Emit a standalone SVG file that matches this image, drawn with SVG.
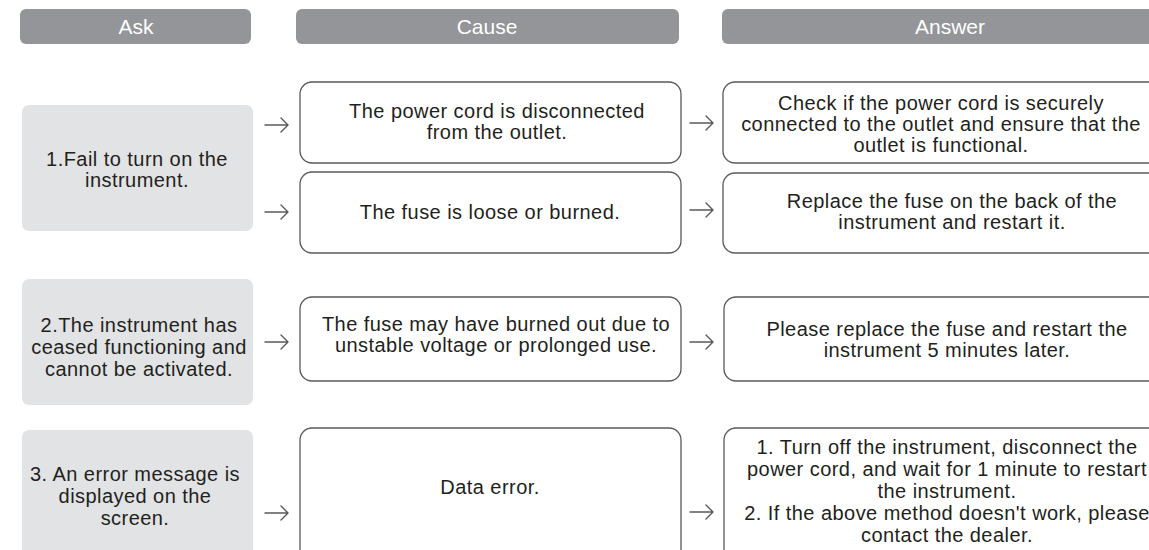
<svg xmlns="http://www.w3.org/2000/svg" width="1149" height="550" viewBox="0 0 1149 550">
<style>
.hdr{fill:#939598}
.hdrt{fill:#ffffff;font-family:"Liberation Sans",Arial,sans-serif;font-size:21px;text-anchor:middle}
.ask{fill:#e2e3e4}
.box{fill:#ffffff;stroke:#58595b;stroke-width:1.3}
.t{fill:#231f20;font-family:"Liberation Sans",Arial,sans-serif;font-size:20px;letter-spacing:0.45px;text-anchor:middle}
.arr{fill:none;stroke:#58595b;stroke-width:1.4;stroke-linecap:round;stroke-linejoin:round}
</style>
<rect width="1149" height="550" fill="#ffffff"/>
<g id="headers">
<rect class="hdr" x="20" y="9" width="231" height="35" rx="6"/>
<text class="hdrt" x="136" y="34">Ask</text>
<rect class="hdr" x="296" y="9" width="383" height="35" rx="6"/>
<text class="hdrt" x="487" y="34">Cause</text>
<rect class="hdr" x="722" y="9" width="450" height="35" rx="6"/>
<text class="hdrt" x="950" y="34">Answer</text>
</g>
<g id="ask1">
<rect class="ask" x="22" y="105" width="231" height="126" rx="7"/>
<text class="t" x="137" y="166">1.Fail to turn on the</text>
<text class="t" x="137" y="187">instrument.</text>
</g>
<g id="cause1a">
<rect class="box" x="300" y="82" width="381" height="81" rx="12"/>
<text class="t" x="497" y="118">The power cord is disconnected</text>
<text class="t" x="497" y="139">from the outlet.</text>
</g>
<g id="cause1b">
<rect class="box" x="300" y="172" width="381" height="81" rx="12"/>
<text class="t" x="490" y="219">The fuse is loose or burned.</text>
</g>
<g id="answer1a">
<rect class="box" x="723" y="82" width="450" height="81" rx="12"/>
<text class="t" x="941" y="110">Check if the power cord is securely</text>
<text class="t" x="941" y="131">connected to the outlet and ensure that the</text>
<text class="t" x="941" y="152">outlet is functional.</text>
</g>
<g id="answer1b">
<rect class="box" x="723" y="173" width="450" height="80" rx="12"/>
<text class="t" x="952" y="208">Replace the fuse on the back of the</text>
<text class="t" x="952" y="229">instrument and restart it.</text>
</g>
<g id="ask2">
<rect class="ask" x="22" y="279" width="231" height="126" rx="7"/>
<text class="t" x="139" y="332">2.The instrument has</text>
<text class="t" x="139" y="354">ceased functioning and</text>
<text class="t" x="139" y="376">cannot be activated.</text>
</g>
<g id="cause2">
<rect class="box" x="300" y="297" width="381" height="84" rx="12"/>
<text class="t" x="496" y="331">The fuse may have burned out due to</text>
<text class="t" x="496" y="352">unstable voltage or prolonged use.</text>
</g>
<g id="answer2">
<rect class="box" x="724" y="297" width="450" height="84" rx="12"/>
<text class="t" x="947" y="336">Please replace the fuse and restart the</text>
<text class="t" x="947" y="357">instrument 5 minutes later.</text>
</g>
<g id="ask3">
<rect class="ask" x="22" y="430" width="231" height="140" rx="7"/>
<text class="t" x="135" y="481">3. An error message is</text>
<text class="t" x="135" y="503">displayed on the</text>
<text class="t" x="135" y="525">screen.</text>
</g>
<g id="cause3">
<rect class="box" x="300" y="428" width="381" height="140" rx="12"/>
<text class="t" x="490" y="494">Data error.</text>
</g>
<g id="answer3">
<rect class="box" x="724" y="428" width="450" height="140" rx="12"/>
<text class="t" x="947" y="454">1. Turn off the instrument, disconnect the</text>
<text class="t" x="947" y="476">power cord, and wait for 1 minute to restart</text>
<text class="t" x="947" y="498">the instrument.</text>
<text class="t" x="947" y="520">2. If the above method doesn't work, please</text>
<text class="t" x="947" y="542">contact the dealer.</text>
</g>
<g id="connectors">
<path class="arr" d="M265 125H288M281 118L288 125L281 132"/>
<path class="arr" d="M265 212H288M281 205L288 212L281 219"/>
<path class="arr" d="M690 123H713M706 116L713 123L706 130"/>
<path class="arr" d="M690 210H713M706 203L713 210L706 217"/>
<path class="arr" d="M265 342H288M281 335L288 342L281 349"/>
<path class="arr" d="M690 342H713M706 335L713 342L706 349"/>
<path class="arr" d="M265 513H288M281 506L288 513L281 520"/>
<path class="arr" d="M690 512H713M706 505L713 512L706 519"/>
</g>
</svg>
